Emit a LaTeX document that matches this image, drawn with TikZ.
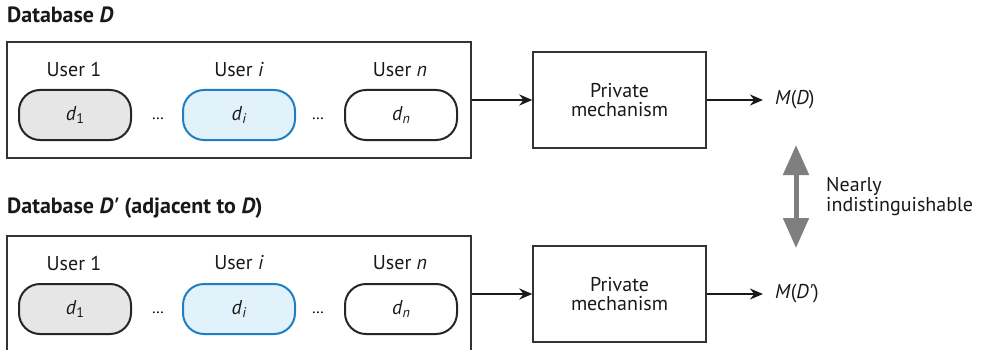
\documentclass[tikz,border=0pt]{standalone}
\usepackage{fontspec}
\setmainfont{PT Sans}
\usetikzlibrary{arrows.meta}
\definecolor{boxline}{HTML}{333333}
\definecolor{pillgray}{HTML}{E6E6E7}
\definecolor{pillblue}{HTML}{E1F2FA}
\definecolor{blueline}{HTML}{1F7FC4}
\definecolor{bigarrow}{HTML}{7F7F80}
\tikzset{
  base/.style={font=\fontsize{20}{19.5}\selectfont, text=black!90},
  dbbox/.style={draw=boxline, line width=1.4pt, minimum width=464pt, minimum height=116pt, inner sep=0pt},
  mechbox/.style={base, draw=boxline, line width=1.4pt, minimum width=173pt, minimum height=96pt, align=center, inner sep=0pt},
  pill/.style={base, draw=black!85, line width=2pt, rounded corners=21pt, minimum width=112pt, minimum height=50pt, inner sep=0pt},
  graypill/.style={pill, fill=pillgray},
  bluepill/.style={pill, fill=pillblue, draw=blueline},
  whitepill/.style={pill, fill=white},
  userlbl/.style={base},
  dotsl/.style={font=\fontsize{16}{16}\selectfont, inner sep=0pt},
  title/.style={base, font=\fontsize{22}{22}\selectfont\bfseries, anchor=west, inner sep=0pt},
  outlbl/.style={base, anchor=west, inner xsep=12pt, inner ysep=0pt},
  flow/.style={draw=black!90, line width=2.2pt, -{Stealth[length=13pt,width=11pt]}},
}
\newcommand{\subd}[1]{\textit{d}\raisebox{-0.35ex}{\fontsize{14}{14}\selectfont#1}}
\begin{document}
\begin{tikzpicture}[x=1pt, y=-1pt]
\clip (0,0) rectangle (981,350);
\fill[white] (0,0) rectangle (981,350);

% Database D
\node[title] (tA) at (7,15) {Database \textit{D}};
\node[dbbox] (dbA) at (239,100) {};
\node[userlbl] (uA1) at (74,70) {User 1};
\node[userlbl] (uAi) at (239,70) {User \textit{i}};
\node[userlbl] (uAn) at (400,70) {User \textit{n}};
\node[graypill] (pA1) at (75,115) {\subd{1}};
\node[bluepill] (pAi) at (239,115) {\subd{\textit{i}}};
\node[whitepill] (pAn) at (401,115) {\subd{\textit{n}}};
\node[dotsl] (eA1) at (158,119) {…};
\node[dotsl] (eA2) at (318,119) {…};
\node[mechbox] (mA) at (619.5,100) {Private\\mechanism};
\node[outlbl] (oA) at (763,100) {\textit{M}(\textit{D})};
\draw[flow] (dbA.east) -- (mA.west);
\draw[flow] (mA.east) -- (oA.west);

% Database D'
\node[title] (tB) at (7,208) {Database \textit{D\textquotesingle} (adjacent to \textit{D})};
\node[dbbox] (dbB) at (239,294) {};
\node[userlbl] (uB1) at (74,263) {User 1};
\node[userlbl] (uBi) at (239,263) {User \textit{i}};
\node[userlbl] (uBn) at (400,263) {User \textit{n}};
\node[graypill] (pB1) at (75,309) {\subd{1}};
\node[bluepill] (pBi) at (239,309) {\subd{\textit{i}}};
\node[whitepill] (pBn) at (401,309) {\subd{\textit{n}}};
\node[dotsl] (eB1) at (158,313) {…};
\node[dotsl] (eB2) at (318,313) {…};
\node[mechbox] (mB) at (619.5,294) {Private\\mechanism};
\node[outlbl] (oB) at (763,294) {\textit{M}(\textit{D\textquotesingle})};
\draw[flow] (dbB.east) -- (mB.west);
\draw[flow] (mB.east) -- (oB.west);

% comparison of the two outputs
\coordinate (cTop) at (796,145);
\coordinate (cBot) at (796,248);
\draw[bigarrow, line width=5pt, {Triangle[length=30pt,width=25pt]}-{Triangle[length=30pt,width=25pt]}] (cTop) -- (cBot);
\node[base, anchor=west, align=left, inner sep=0pt] (nd) at (826,196.5) {Nearly\\indistinguishable};
\end{tikzpicture}
\end{document}
